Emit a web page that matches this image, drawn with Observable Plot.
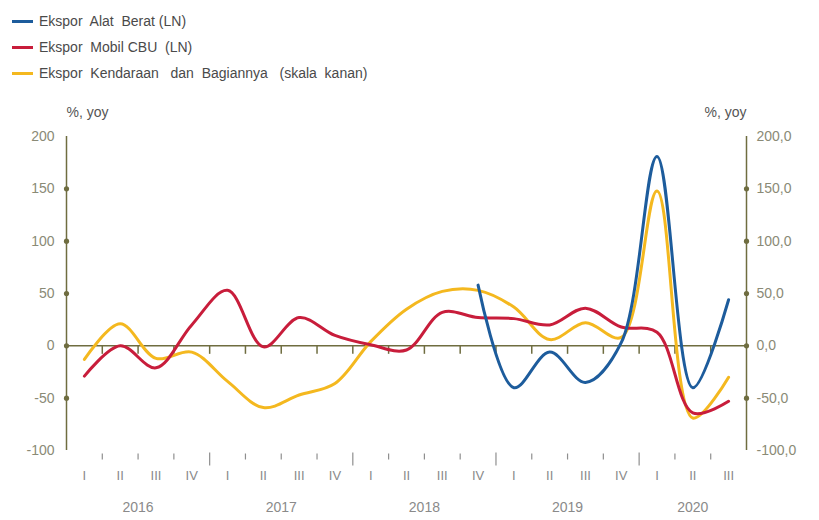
<!DOCTYPE html>
<html>
<head>
<meta charset="utf-8">
<script src="https://cdn.jsdelivr.net/npm/d3@7"></script>
<script src="https://cdn.jsdelivr.net/npm/@observablehq/plot@0.6"></script>
<style>
  html, body { margin: 0; padding: 0; background: #fff; }
  body { width: 819px; height: 520px; overflow: hidden; font-family: "Liberation Sans", Arial, sans-serif; }
  #legend { position: relative; height: 90px; }
  .item { position: absolute; left: 12px; display: flex; align-items: center; font-size: 14px; color: #4a4a4a; }
  .sw { width: 21px; height: 3px; margin-right: 6px; }
</style>
</head>
<body>
<div id="legend"></div>
<div id="chart"></div>
<script>
// ---- data ----
const quarterLabels = ["I","II","III","IV","I","II","III","IV","I","II","III","IV","I","II","III","IV","I","II","III"];
const yearLabels = ["2016","2017","2018","2019","2020"];
const seriesNames = ["Ekspor  Alat  Berat (LN)", "Ekspor  Mobil CBU  (LN)", "Ekspor  Kendaraan   dan  Bagiannya   (skala  kanan)"];
const alatBerat = [null,null,null,null,null,null,null,null,null,null,null,58,-40,-6,-35,3,181,-40,44];
const mobilCBU  = [-29,0,-21,20,53,-1,27,10,1,-4,32,27,26,20,36,18,13,-64,-53];
const kendaraan = [-13,21,-12,-6,-34,-59,-47,-36,4,35,52,53,37,6,22,8,148,-69,-30];
const yTicks = [-100,-50,0,50,100,150,200];
const yDots = [-50,0,50,100,150];
const colors = ["#1d5c9c", "#c81d3b", "#f4b81f"];

// ---- legend ----
const legend = document.getElementById("legend");
seriesNames.forEach((name, i) => {
  const el = document.createElement("div");
  el.className = "item";
  el.style.top = (13 + i * 26) + "px";
  el.innerHTML = `<span class="sw" style="background:${colors[i]}"></span><span style="white-space:pre">${name}</span>`;
  legend.appendChild(el);
});

// ---- table ----
const nQ = quarterLabels.length;
const rows = [];
[alatBerat, mobilCBU, kendaraan].forEach((arr, s) => {
  arr.forEach((v, i) => { if (v !== null) rows.push({s, x: i + 0.5, y: v}); });
});
const qCenters = quarterLabels.map((q, i) => ({x: i + 0.5, q}));
const boundaries = d3.range(1, nQ);
const yearBounds = boundaries.filter(b => b % 4 === 0);
const qBounds = boundaries.filter(b => b % 4 !== 0);
const yearCenters = yearLabels.map((y, i) => ({x: Math.min(i * 4 + 2, (i * 4 + nQ) / 2), y}));
const yMin = d3.min(yTicks), yMax = d3.max(yTicks);

const W = 819, H = 430, mL = 66, mR = 73, mT = 46, mB = 70;
const ppu = (H - mT - mB) / (yMax - yMin); // pixels per unit, for tick lengths

const olive = "#6f6d40";
const tickColor = "#8a8a76";
const bottomTick = "#8f8f8f";

const zeroTicks = boundaries.map(b => ({x: b, y1: 0, y2: -8 / ppu}));
const qTicks = qBounds.map(b => ({x: b, y1: yMin - 3 / ppu, y2: yMin - 9 / ppu}));
const yTicksBottom = yearBounds.map(b => ({x: b, y1: yMin - 2 / ppu, y2: yMin - 15 / ppu}));

const chart = Plot.plot({
  width: W,
  height: H,
  marginLeft: mL,
  marginRight: mR,
  marginTop: mT,
  marginBottom: mB,
  style: { fontFamily: "Liberation Sans, Arial, sans-serif", background: "#fff", overflow: "visible" },
  x: { domain: [0, nQ], axis: null },
  y: { domain: [yMin, yMax], axis: null },
  marks: [
    // axes lines
    Plot.ruleX([0, nQ], { y1: yMin, y2: yMax, stroke: olive, strokeWidth: 1.5 }),
    Plot.ruleY([0], { x1: 0, x2: nQ, stroke: olive, strokeWidth: 1.5 }),
    // axis dots
    Plot.dot(yDots, { x: 0, y: d => d, r: 2.6, fill: olive }),
    Plot.dot(yDots, { x: nQ, y: d => d, r: 2.6, fill: olive }),
    // zero-line ticks
    Plot.link(zeroTicks, { x1: "x", x2: "x", y1: "y1", y2: "y2", stroke: olive, strokeWidth: 1.5 }),
    // bottom ticks
    Plot.link(qTicks, { x1: "x", x2: "x", y1: "y1", y2: "y2", stroke: bottomTick, strokeWidth: 1.2 }),
    Plot.link(yTicksBottom, { x1: "x", x2: "x", y1: "y1", y2: "y2", stroke: bottomTick, strokeWidth: 1.2 }),
    // tick labels
    Plot.text(yTicks, { x: 0, y: d => d, text: d => String(d), textAnchor: "end", dx: -12, fontSize: 14, fill: tickColor }),
    Plot.text(yTicks, { x: nQ, y: d => d, text: d => d.toFixed(1).replace(".", ","), textAnchor: "start", dx: 10, fontSize: 14, fill: tickColor }),
    // unit labels
    Plot.text(["%, yoy"], { x: 0, y: yMax, text: d => d, textAnchor: "start", dx: 0, dy: -24, fontSize: 14, fill: "#555" }),
    Plot.text(["%, yoy"], { x: nQ, y: yMax, text: d => d, textAnchor: "end", dx: 0, dy: -24, fontSize: 14, fill: "#555" }),
    // quarter and year labels
    Plot.text(qCenters, { x: "x", y: yMin, text: "q", dy: 25, fontSize: 13, fill: "#8a8a8a" }),
    Plot.text(yearCenters, { x: "x", y: yMin, text: "y", dy: 57, fontSize: 14, fill: "#8a8a8a" }),
    // lines
    Plot.line(rows.filter(d => d.s === 2), { x: "x", y: "y", stroke: colors[2], strokeWidth: 3, curve: "catmull-rom" }),
    Plot.line(rows.filter(d => d.s === 1), { x: "x", y: "y", stroke: colors[1], strokeWidth: 3, curve: "catmull-rom" }),
    Plot.line(rows.filter(d => d.s === 0), { x: "x", y: "y", stroke: colors[0], strokeWidth: 3, curve: "catmull-rom" })
  ]
});
document.getElementById("chart").appendChild(chart);
</script>
</body>
</html>
